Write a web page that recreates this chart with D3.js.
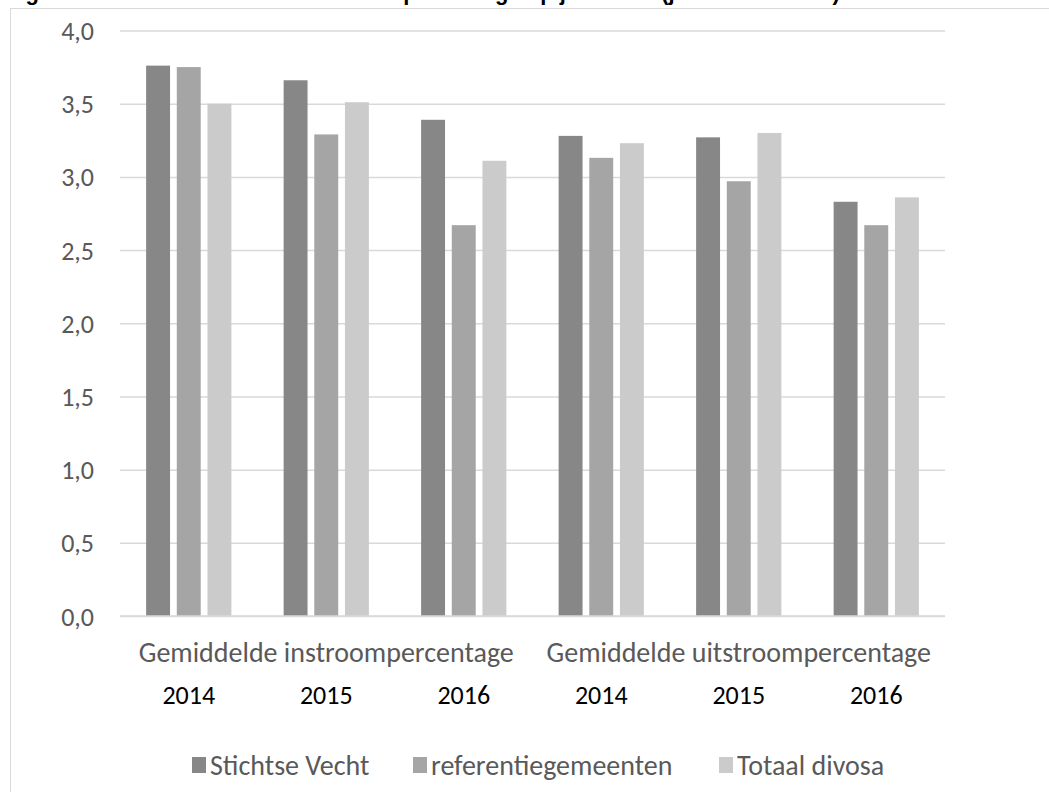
<!DOCTYPE html>
<html>
<head>
<meta charset="utf-8">
<script src="https://cdn.jsdelivr.net/npm/d3@7/dist/d3.min.js"></script>
<style>
  html, body { margin: 0; padding: 0; background: #ffffff; }
  svg { display: block; }
</style>
</head>
<body>
<svg id="chart" width="1049" height="792"></svg>
<script>
// Average inflow / outflow percentage per year
const categories = ["in2014", "in2015", "in2016", "uit2014", "uit2015", "uit2016"];
const yearLabels = ["2014", "2015", "2016", "2014", "2015", "2016"];
const groupLabels = ["Gemiddelde instroompercentage", "Gemiddelde uitstroompercentage"];
const seriesNames = ["Stichtse Vecht", "referentiegemeenten", "Totaal divosa"];
const stichtseVecht = [3.76, 3.66, 3.39, 3.28, 3.27, 2.83];
const referentiegemeenten = [3.75, 3.29, 2.67, 3.13, 2.97, 2.67];
const totaalDivosa = [3.50, 3.51, 3.11, 3.23, 3.30, 2.86];
const yTicks = [0, 0.5, 1, 1.5, 2, 2.5, 3, 3.5, 4];
const colors = ["#878787", "#a5a5a5", "#cbcbcb"];

const series = [stichtseVecht, referentiegemeenten, totaalDivosa];
const svg = d3.select("#chart");
const font = "Carlito, Lato, 'Liberation Sans', sans-serif";

// Title line (runs off the top edge)
svg.append("text")
  .attr("x", 6).attr("y", 0)
  .attr("font-family", "'Liberation Sans', Arial, sans-serif")
  .attr("font-weight", "bold").attr("font-size", 22)
  .attr("fill", "#000")
  .text("Figuur 5.2 Gemiddeld in- en uitstroompercentage op jaarbasis (jaren 2014-2016)");

// Chart frame
svg.append("rect")
  .attr("x", 10.5).attr("y", 8.5)
  .attr("width", 1060).attr("height", 800)
  .attr("fill", "none").attr("stroke", "#d9d9d9").attr("stroke-width", 1);

const plotLeft = 120, plotRight = 945;
const y = d3.scaleLinear().domain([0, 4]).range([616, 30.5]);

const x0 = d3.scaleBand().domain(categories).range([plotLeft, plotRight])
  .paddingInner(0.38).paddingOuter(0.19);
const x1 = d3.scaleBand().domain(d3.range(series.length)).range([0, x0.bandwidth()])
  .paddingInner(0.22).paddingOuter(0);

// Gridlines
const grid = d3.axisLeft(y).tickValues(yTicks).tickSize(-(plotRight - plotLeft)).tickFormat("");
svg.append("g").attr("transform", `translate(${plotLeft},0)`).call(grid)
  .call(g => g.select(".domain").remove())
  .call(g => g.selectAll(".tick line").attr("stroke", "#d9d9d9").attr("stroke-width", 1.5));

// Y labels
const fmt = d => d.toFixed(1).replace(".", ",");
const yAxis = d3.axisLeft(y).tickValues(yTicks).tickSize(0).tickPadding(0).tickFormat(fmt);
svg.append("g").attr("transform", "translate(94,0)").call(yAxis)
  .call(g => g.select(".domain").remove())
  .call(g => g.selectAll(".tick text")
    .attr("font-family", font).attr("font-size", 26).attr("fill", "#595959")
    .attr("dy", "0.35em"));

// Bars
const groups = svg.append("g").selectAll("g")
  .data(categories).join("g")
  .attr("transform", d => `translate(${x0(d)},0)`);

groups.selectAll("rect")
  .data((c, ci) => series.map((s, si) => ({ si, v: s[ci] })))
  .join("rect")
  .attr("x", d => x1(d.si))
  .attr("width", x1.bandwidth())
  .attr("y", d => y(d.v))
  .attr("height", d => y(0) - y(d.v))
  .attr("fill", d => colors[d.si]);

// Baseline
svg.append("line")
  .attr("x1", plotLeft).attr("x2", plotRight)
  .attr("y1", y(0)).attr("y2", y(0))
  .attr("stroke", "#d9d9d9").attr("stroke-width", 1.5);

// Category labels: years
svg.append("g").selectAll("text")
  .data(categories).join("text")
  .attr("x", d => x0(d) + x0.bandwidth() / 2)
  .attr("y", 704)
  .attr("text-anchor", "middle")
  .attr("font-family", font).attr("font-size", 26).attr("fill", "#000")
  .text((d, i) => yearLabels[i]);

// Category labels: measure groups
svg.append("g").selectAll("text")
  .data(groupLabels).join("text")
  .attr("x", (d, i) => x0(categories[i * 3 + 1]) + x0.bandwidth() / 2)
  .attr("y", 662)
  .attr("text-anchor", "middle")
  .attr("font-family", font).attr("font-size", 28).attr("fill", "#595959")
  .text(d => d);

// Legend
const legendX = [192, 413, 719];
const legend = svg.append("g").selectAll("g")
  .data(seriesNames).join("g")
  .attr("transform", (d, i) => `translate(${legendX[i]},765)`);
legend.append("rect")
  .attr("x", 0).attr("y", -8).attr("width", 14).attr("height", 16)
  .attr("fill", (d, i) => colors[i]);
legend.append("text")
  .attr("x", 18).attr("y", 0).attr("dy", "0.35em")
  .attr("font-family", font).attr("font-size", 28).attr("fill", "#595959")
  .text(d => d);
</script>
</body>
</html>
